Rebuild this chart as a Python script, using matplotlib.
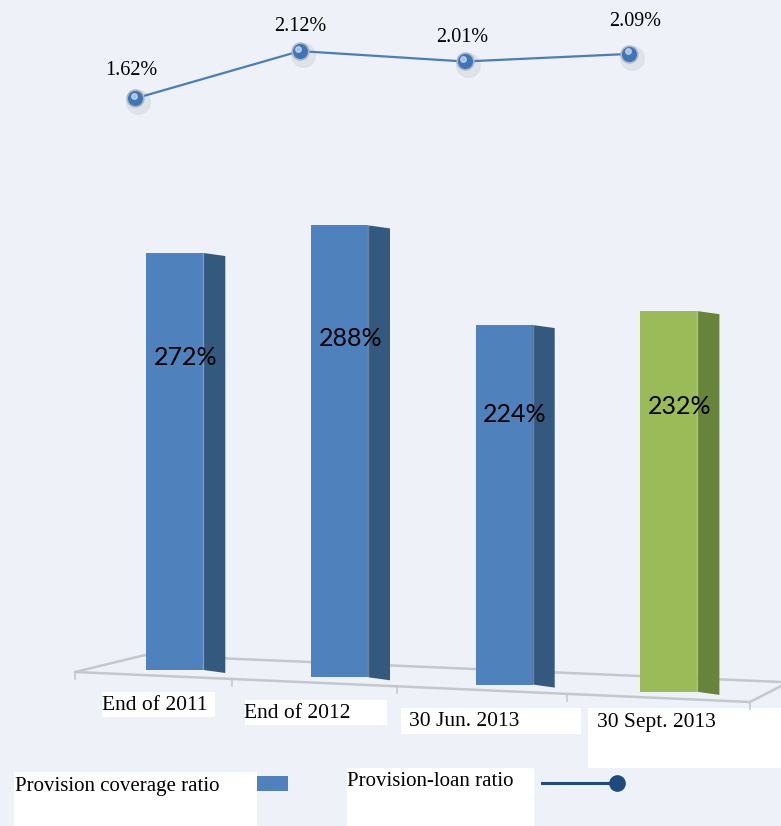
import matplotlib.pyplot as plt
import numpy as np
from matplotlib.patches import Polygon, Rectangle
from matplotlib import transforms

categories = ['End of 2011', 'End of 2012', '30 Jun. 2013', '30 Sept. 2013']
coverage = [272, 288, 224, 232]          # provision coverage ratio, %
loan_ratio = [1.62, 2.12, 2.01, 2.09]    # provision-loan ratio, %

BG = '#eef2f8'
BLUE = '#4f81bd'
BLUE_SIDE = '#34597f'
GREEN = '#9bbb59'
GREEN_SIDE = '#68843a'
LINE = '#4a7ebb'
NAVY = '#1f4a7d'
FLOOR = '#c4c8cc'
SERIF = 'Liberation Serif'


def draw_decor(fig):
	# pixel-space layer: floor, category label boxes, legend
	ax = fig.add_axes([0, 0, 1, 1], zorder=0)
	ax.set_xlim(0, 781)
	ax.set_ylim(826, 0)
	ax.axis('off')

	fl = dict(color=FLOOR, lw=1.8, solid_capstyle='round')
	ax.plot([145, 781], [655, 682], **fl)
	ax.plot([75, 145], [672, 655], **fl)
	ax.plot([75, 750], [672, 702], **fl)
	ax.plot([750, 781], [702, 686], **fl)
	for tx in [75, 232, 397, 567, 750]:
		ty = 672 + (tx - 75) * 30 / 675
		ax.plot([tx, tx], [ty, ty + 7], color=FLOOR, lw=1.2)

	boxes = [(102, 692, 113, 25), (245, 700, 142, 25), (401, 708, 180, 26), (588, 708, 193, 60)]
	text_pos = [(102, 705), (244, 714), (409, 722), (597, 722)]
	for (bx, by, bw, bh), (tx, ty), lab in zip(boxes, text_pos, categories):
		ax.add_patch(Rectangle((bx, by), bw, bh, facecolor='white', edgecolor='none'))
		ax.text(tx, ty, lab, ha='left', va='center', fontsize=15.5, family=SERIF)

	# legend
	ax.add_patch(Rectangle((14, 772), 243, 54, facecolor='white', edgecolor='none'))
	ax.text(15, 786, 'Provision coverage ratio', ha='left', va='center', fontsize=15, family=SERIF)
	ax.add_patch(Rectangle((257, 776), 31, 15, facecolor=BLUE, edgecolor='none'))
	ax.add_patch(Rectangle((347, 768), 187, 58, facecolor='white', edgecolor='none'))
	ax.text(347, 782, 'Provision-loan ratio', ha='left', va='center', fontsize=15, family=SERIF)
	ax.plot([542, 617], [783, 783], color=NAVY, lw=2.2)
	ax.plot([617], [783], 'o', color=NAVY, ms=11)


def draw_bars(fig):
	ax = fig.add_axes([0, 0, 1, 1], zorder=2)
	ax.patch.set_alpha(0)
	ax.axis('off')
	ax.set_xlim(-1.041, 3.701)
	ax.set_ylim(-101.8, 437)

	x = np.arange(len(coverage))
	vals = np.array(coverage, dtype=float)
	bottoms = -4.76 * x               # floor slopes away to the right
	depth = 1 + 0.0235 * x            # bars further right sit closer to the viewer
	heights = vals * depth
	width, side, drop = 0.346, 0.134, 2.0
	fronts = [BLUE, BLUE, BLUE, GREEN]
	sides = [BLUE_SIDE, BLUE_SIDE, BLUE_SIDE, GREEN_SIDE]

	ax.bar(x + 0.02, heights, width=width, bottom=bottoms, color=fronts, zorder=3)
	for xi, b, h, sc in zip(x + 0.02, bottoms, heights, sides):
		xr = xi + width / 2
		ax.add_patch(Polygon([(xr, b), (xr + side, b - drop), (xr + side, b + h - drop), (xr, b + h)],
							 closed=True, facecolor=sc, edgecolor='none', zorder=3))
		# thin highlight along the front/side edge
		ax.plot([xr, xr], [b, b + h], color='#ffffff', alpha=0.25, lw=1, zorder=4)

	for xi, b, h, v in zip(x, bottoms, heights, coverage):
		ax.text(xi + 0.087, b + 0.75 * h, f'{v}%', ha='center', va='center',
				fontsize=18, family='Lato', zorder=5)


def draw_line(fig):
	ax = fig.add_axes([0, 0, 1, 1], zorder=3)
	ax.patch.set_alpha(0)
	ax.axis('off')
	ax.set_xlim(-1.041, 3.701)
	ax.set_ylim(-6.071, 2.660)

	lx = np.arange(len(loan_ratio)) - 0.22
	ax.plot(lx, loan_ratio, color=LINE, lw=1.6, zorder=2)
	shadow = transforms.offset_copy(ax.transData, fig=fig, x=3, y=-4, units='dots')
	ax.plot(lx, loan_ratio, 'o', ms=17, color='#dadde1', alpha=0.7, transform=shadow, zorder=1)
	ax.plot(lx, loan_ratio, 'o', ms=12, markerfacecolor='#3f74b5', markeredgecolor='#a9b6c6',
			markeredgewidth=1.2, linestyle='none', zorder=3)
	hi = transforms.offset_copy(ax.transData, fig=fig, x=-1.5, y=2.5, units='dots')
	ax.plot(lx, loan_ratio, 'o', ms=4, color='#cfe0f5', alpha=0.7, transform=hi, zorder=4)

	offsets = [(-3, 20), (0, 18), (-2, 17), (4, 23)]
	for xi, v, off in zip(lx, loan_ratio, offsets):
		ax.annotate(f'{v:.2f}%', (xi, v), xytext=off, textcoords='offset points',
					ha='center', va='center', fontsize=14.5, family=SERIF)


def main():
	fig = plt.figure(figsize=(7.81, 8.26), dpi=100, facecolor=BG)
	draw_decor(fig)
	draw_bars(fig)
	draw_line(fig)
	fig.savefig('out.png', dpi=100, facecolor=BG)


if __name__ == '__main__':
	main()
